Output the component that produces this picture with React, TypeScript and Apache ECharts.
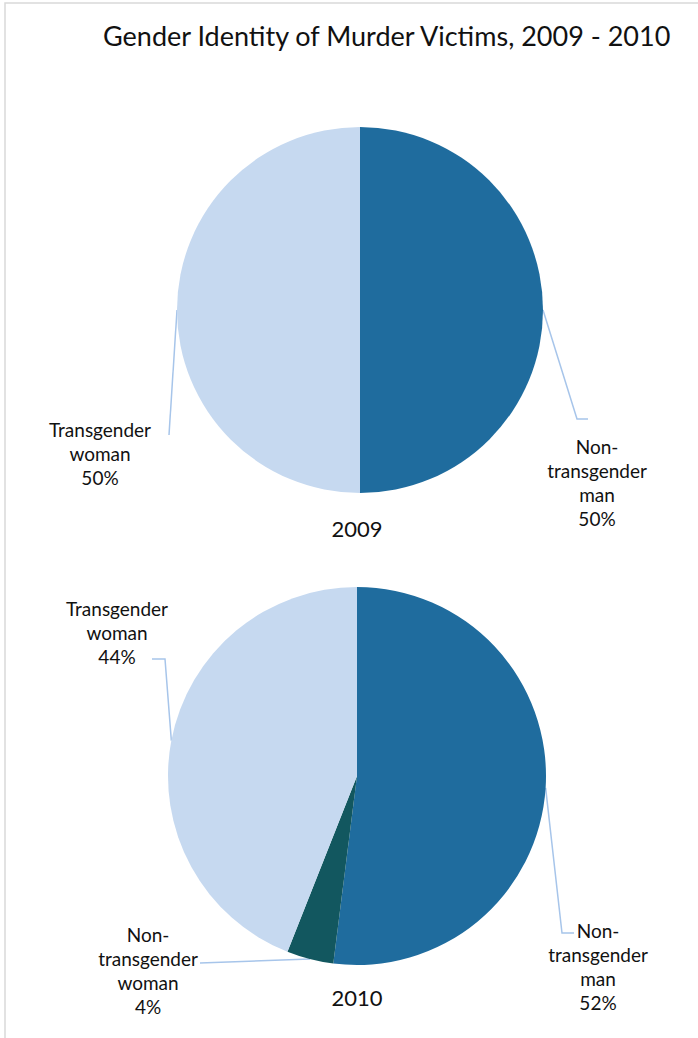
import React, { useEffect, useRef } from "react";
import * as echarts from "echarts";

const titleText = "Gender Identity of Murder Victims, 2009 - 2010";
const years = ["2009", "2010"];
const names2009 = ["Non-transgender man", "Transgender woman"];
const values2009 = [50, 50];
const names2010 = ["Non-transgender man", "Non-transgender woman", "Transgender woman"];
const values2010 = [52, 4, 44];

const colorMap: Record<string, string> = {
  "Non-transgender man": "#1F6C9E",
  "Non-transgender woman": "#12575F",
  "Transgender woman": "#C6D9F0",
};
const labelTextMap: Record<string, string> = {
  "Non-transgender man": "Non-\ntransgender\nman",
  "Non-transgender woman": "Non-\ntransgender\nwoman",
  "Transgender woman": "Transgender\nwoman",
};

// label layout (positions only): [labelCenterX, labelCenterY, ...extra line points]
const layout2009: number[][][] = [
  [[597, 482], [577, 419], [588, 419]],
  [[100, 453], [169, 435]],
];
const layout2010: number[][][] = [
  [[598, 966], [562, 933], [574, 933]],
  [[148, 970], [200, 963]],
  [[117, 632], [165, 659], [152, 659]],
];

const FONT = "Lato, 'Open Sans', sans-serif";

function makeSeries(names: string[], values: number[], center: number[], radius: number, lay: number[][][]) {
  return {
    type: "pie",
    center,
    radius,
    startAngle: 90,
    clockwise: true,
    silent: true,
    data: names.map((n, i) => ({
      name: n,
      value: values[i],
      itemStyle: { color: colorMap[n] },
    })),
    label: {
      show: true,
      position: "outside",
      formatter: (p: any) => `${labelTextMap[p.name]}\n${Math.round(p.percent)}%`,
      fontFamily: FONT,
      fontSize: 19,
      lineHeight: 24,
      color: "#111",
      align: "center",
    },
    labelLine: {
      show: true,
      length: 10,
      length2: 10,
      smooth: false,
      lineStyle: { color: "#A7C5EA", width: 1.5 },
    },
    labelLayout: (params: any) => {
      const l = lay[params.dataIndex];
      const start = params.labelLinePoints ? params.labelLinePoints[0] : null;
      const pts = start ? [start, ...l.slice(1)] : undefined;
      return {
        x: l[0][0],
        y: l[0][1],
        align: "center",
        verticalAlign: "middle",
        labelLinePoints: pts,
      };
    },
  };
}

export default function App() {
  const ref = useRef<HTMLDivElement>(null);
  useEffect(() => {
    if (!ref.current) return;
    const chart = echarts.init(ref.current, null, { renderer: "svg" });
    chart.setOption({
      animation: false,
      backgroundColor: "#fff",
      title: {
        text: titleText,
        left: 103,
        top: 22,
        padding: 0,
        textStyle: { fontFamily: FONT, fontSize: 27, fontWeight: "normal", color: "#111" },
      },
      graphic: [
        {
          type: "rect",
          shape: { x: 5, y: 3, width: 900, height: 1200 },
          style: { fill: "none", stroke: "#D9D9D9", lineWidth: 1.5 },
          silent: true,
          z: 0,
        },
        {
          type: "text",
          x: 357,
          y: 528,
          style: { text: years[0], fontFamily: FONT, fontSize: 22, fill: "#111", align: "center", verticalAlign: "middle" },
        },
        {
          type: "text",
          x: 357,
          y: 997,
          style: { text: years[1], fontFamily: FONT, fontSize: 22, fill: "#111", align: "center", verticalAlign: "middle" },
        },
      ],
      series: [
        makeSeries(names2009, values2009, [360, 310], 183, layout2009),
        makeSeries(names2010, values2010, [357, 776], 189, layout2010),
      ],
    });
    return () => chart.dispose();
  }, []);
  return (
    <div
      ref={ref}
      style={{ position: "absolute", left: 0, top: 0, width: 698, height: 1038 }}
    />
  );
}
